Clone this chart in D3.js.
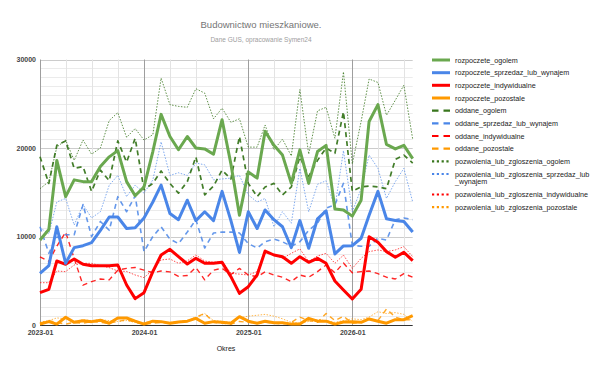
<!DOCTYPE html>
<html>
<head>
<meta charset="utf-8">
<script src="https://cdn.jsdelivr.net/npm/d3@7"></script>
<style>
  body { margin: 0; background: #fff; }
  svg { display: block; font-family: Arial, "Liberation Sans", sans-serif; }
  .grid-minor line { stroke: #ebebeb; }
  .grid-major line { stroke: #cccccc; }
  .vgrid-minor line { stroke: #e3e3e3; }
  .vgrid-major line { stroke: #9e9e9e; }
  .axis text { fill: #444; font-size: 7px; }
  .legend text { fill: #222; font-size: 7.2px; }
</style>
</head>
<body>
<div id="chart"></div>
<script>
// months 2023-01 .. 2026-08
var months = d3.timeMonth.range(new Date(2023, 0, 1), new Date(2026, 8, 1));
var yearTicks = ['2023-01', '2024-01', '2025-01', '2026-01'];

var rozpoczeteOgolem = [9600,10800,18600,14500,16400,16200,16200,17900,19000,19700,16200,14600,15600,19600,23800,21300,19800,21300,20000,19900,19300,23200,18200,12400,17300,16600,21900,20300,19200,16000,19800,16000,19600,20300,13100,13000,12300,14100,23000,24900,20400,19900,20300,18800];
var rozpoczeteSprzedaz = [5840,6700,11100,6970,8740,8960,9300,10700,12200,12200,10900,11000,12100,13900,15800,12600,11900,14100,11800,12800,11800,15100,11800,8200,12800,10900,13000,11900,11100,8740,11800,8670,12000,12900,8030,8930,8960,9800,12400,15100,12000,11800,11700,10500];
var rozpoczeteIndywidualne = [3650,4030,7230,6860,7460,6860,6700,6700,6700,6780,4520,2980,3650,6030,7910,8550,7720,6890,7530,6970,6970,7080,5460,3580,4330,5650,8360,7910,7720,6970,7720,7080,7530,6970,4970,3960,2940,4030,9980,9340,8290,7650,8210,7270];
var rozpoczetePozostale = [100,380,100,870,300,490,380,540,200,790,790,430,100,430,380,200,340,430,750,200,380,300,200,940,430,200,430,250,250,100,100,750,430,430,100,340,380,300,680,430,200,600,600,1050];

var oddaneOgolem = [19000,16000,20300,20800,17700,17900,15100,17500,16300,20800,18400,21100,15300,16000,17400,16000,14900,16200,19000,14700,15700,17500,16500,21300,16000,14500,15600,16000,14700,15600,19000,16800,18600,20000,19400,24100,15100,15600,15700,15600,15400,18700,19200,18300];
var oddaneSprzedaz = [11100,8100,9900,10200,10200,13600,10000,11700,10700,14500,12800,14600,8300,10000,11100,9700,9200,10500,11900,8700,10400,10500,10500,10400,9200,8700,9400,9700,9400,8900,9400,10700,11500,13200,13600,16000,9000,8900,8900,9800,9600,11900,12100,11900];
var oddaneIndywidualne = [7700,7200,8900,10500,7500,4500,4900,5200,5100,6200,6400,6500,6200,5900,6100,6000,5500,5600,6500,5100,6200,6400,5700,6400,5650,5460,6000,5650,5400,4900,5650,5400,6030,6780,5900,7000,5900,6030,6100,5800,5400,5200,5800,5400];
var oddanePozostale = [200,500,300,100,300,200,400,300,200,400,600,300,100,200,300,200,300,400,900,1300,300,200,100,400,300,200,300,200,100,300,900,500,300,1300,500,1000,200,300,700,500,1800,900,600,600];

var pozwoleniaOgolem = [15400,16200,20100,20900,18600,20900,19300,20000,23100,24000,21200,22200,20900,21500,27900,24900,24700,24600,26700,26200,23300,24500,22900,23300,20100,20100,22600,19800,21000,19100,26600,19300,24200,24600,21100,28600,18200,23000,27800,27400,23700,25400,27100,21000];
var pozwoleniaSprzedaz = [11000,10300,13900,14300,11300,13600,12100,12800,15800,16900,14500,15800,14900,16400,20700,16900,17200,16900,18300,18100,16400,16500,16600,16900,14700,13900,14300,11100,12800,11500,17700,12800,15900,16300,13300,19700,12800,15400,19200,17700,14300,16200,17700,13900];
var pozwoleniaIndywidualne = [4780,4780,6100,6030,6780,6970,6970,6700,6480,6100,6050,5650,5350,6220,7350,7460,6970,7250,7910,7230,7080,7200,5840,5750,5650,6030,8100,8000,7530,8100,8600,7160,7800,8100,6970,7900,6400,7530,8290,8480,8290,8480,8850,7720];
var pozwoleniaPozostale = [300,500,800,700,400,600,500,600,500,400,500,300,300,400,300,300,400,500,700,1300,500,400,300,800,1000,1100,1200,1000,700,300,200,400,600,500,300,500,700,600,900,1500,1300,1400,1200,400];

var series = [
  {name: 'rozpoczete_ogolem', values: rozpoczeteOgolem, color: '#6aa84f', width: 3, dash: null, op: 1},
  {name: 'rozpoczete_sprzedaz_lub_wynajem', values: rozpoczeteSprzedaz, color: '#4a86e8', width: 3, dash: null, op: 1},
  {name: 'rozpoczete_indywidualne', values: rozpoczeteIndywidualne, color: '#ff0000', width: 3, dash: null, op: 1},
  {name: 'rozpoczete_pozostale', values: rozpoczetePozostale, color: '#ff9900', width: 3, dash: null, op: 1},
  {name: 'oddane_ogolem', values: oddaneOgolem, color: '#38761d', width: 1.7, dash: '5,4', op: 0.95},
  {name: 'oddane_sprzedaz_lub_wynajem', values: oddaneSprzedaz, color: '#4a86e8', width: 1.6, dash: '5,4', op: 0.85},
  {name: 'oddane_indywidualne', values: oddaneIndywidualne, color: '#ff0000', width: 1.4, dash: '5,4', op: 0.85},
  {name: 'oddane_pozostale', values: oddanePozostale, color: '#ff9900', width: 1.4, dash: '5,4', op: 0.85},
  {name: 'pozwolenia_lub_zgloszenia_ogolem', values: pozwoleniaOgolem, color: '#38761d', width: 1, dash: '1.5,1.5', op: 0.8},
  {name: 'pozwolenia_lub_zgloszenia_sprzedaz_lub_wynajem', values: pozwoleniaSprzedaz, color: '#4a86e8', width: 1, dash: '1.5,1.5', op: 0.7},
  {name: 'pozwolenia_lub_zgloszenia_indywidualne', values: pozwoleniaIndywidualne, color: '#ff0000', width: 1, dash: '1.5,1.5', op: 0.7},
  {name: 'pozwolenia_lub_zgloszenia_pozostale', values: pozwoleniaPozostale, color: '#ff9900', width: 1, dash: '1.5,1.5', op: 0.7}
];

(function(){
var width = 600, height = 371;
var plotLeft = 40, plotRight = 412.7, plotTop = 59.5, plotBottom = 325;

var svg = d3.select('#chart').append('svg')
  .attr('width', width)
  .attr('height', height);

var x = d3.scaleTime()
  .domain([months[0], months[months.length - 1]])
  .range([plotLeft, plotRight]);

var y = d3.scaleLinear()
  .domain([0, 30000])
  .range([plotBottom, plotTop]);

// horizontal grid
svg.append('g').attr('class', 'grid-minor')
  .selectAll('line').data(d3.range(1000, 30000, 1000).filter(function(d){ return d % 10000; }))
  .enter().append('line')
  .attr('x1', plotLeft).attr('x2', plotRight)
  .attr('y1', function(d){ return Math.round(y(d)) + 0.5; }).attr('y2', function(d){ return Math.round(y(d)) + 0.5; });

svg.append('g').attr('class', 'grid-major')
  .selectAll('line').data([10000, 20000, 30000])
  .enter().append('line')
  .attr('x1', plotLeft).attr('x2', plotRight)
  .attr('y1', function(d){ return Math.round(y(d)) + 0.5; }).attr('y2', function(d){ return Math.round(y(d)) + 0.5; });

// vertical grid
var quarterMonths = months.filter(function(d){ return d.getMonth() % 3 === 0 && d.getMonth() !== 0; });
var yearMonths = months.filter(function(d){ return d.getMonth() === 0; });

svg.append('g').attr('class', 'vgrid-minor')
  .selectAll('line').data(quarterMonths)
  .enter().append('line')
  .attr('x1', function(d){ return Math.round(x(d)) + 0.5; }).attr('x2', function(d){ return Math.round(x(d)) + 0.5; })
  .attr('y1', plotTop).attr('y2', plotBottom);

svg.append('g').attr('class', 'vgrid-major')
  .selectAll('line').data(yearMonths)
  .enter().append('line')
  .attr('x1', function(d){ return Math.round(x(d)) + 0.5; }).attr('x2', function(d){ return Math.round(x(d)) + 0.5; })
  .attr('y1', plotTop).attr('y2', plotBottom);

// baseline
svg.append('line')
  .attr('x1', plotLeft).attr('x2', plotRight)
  .attr('y1', plotBottom + 0.5).attr('y2', plotBottom + 0.5)
  .attr('stroke', '#333');

// lines (draw dotted first, solid on top)
var line = d3.line()
  .x(function(d, i){ return x(months[i]); })
  .y(function(d){ return y(d); });

svg.append('g')
  .selectAll('path').data(series.slice().reverse())
  .enter().append('path')
  .attr('d', function(d){ return line(d.values); })
  .attr('fill', 'none')
  .attr('stroke', function(d){ return d.color; })
  .attr('stroke-width', function(d){ return d.width; })
  .attr('stroke-dasharray', function(d){ return d.dash; })
  .attr('stroke-opacity', function(d){ return d.op; })
  .attr('stroke-linejoin', 'round');

// y axis labels
var yAxis = d3.axisLeft(y).tickValues([0, 10000, 20000, 30000]).tickSize(0).tickPadding(4).tickFormat(d3.format('d'));
var gy = svg.append('g').attr('class', 'axis').attr('transform', 'translate(' + plotLeft + ',0)').call(yAxis);
gy.select('.domain').remove();
gy.selectAll('text').attr('font-weight', 'bold').attr('fill', '#555');

// x axis labels
var parse = d3.timeParse('%Y-%m');
var xAxis = d3.axisBottom(x).tickValues(yearTicks.map(parse)).tickSize(0).tickPadding(5).tickFormat(d3.timeFormat('%Y-%m'));
var gx = svg.append('g').attr('class', 'axis').attr('transform', 'translate(0,' + plotBottom + ')').call(xAxis);
gx.select('.domain').remove();
gx.selectAll('text').attr('font-weight', 'bold').attr('fill', '#444');

svg.append('text')
  .attr('x', 226).attr('y', 351)
  .attr('text-anchor', 'middle')
  .attr('font-size', 7)
  .attr('fill', '#222')
  .text('Okres');

// title
svg.append('text')
  .attr('x', 261).attr('y', 28)
  .attr('text-anchor', 'middle')
  .attr('font-size', 9.5)
  .attr('fill', '#757575')
  .text('Budownictwo mieszkaniowe.');

svg.append('text')
  .attr('x', 261).attr('y', 42)
  .attr('text-anchor', 'middle')
  .attr('font-size', 6.5)
  .attr('fill', '#9e9e9e')
  .text('Dane GUS, opracowanie Symen24');

// legend
var legendRows = [60, 72.7, 85.3, 98, 110.7, 123.3, 136, 148.7, 161.3, 174, 194.5, 207.2];
var legend = svg.append('g').attr('class', 'legend');
var items = legend.selectAll('g').data(series).enter().append('g')
  .attr('transform', function(d, i){ return 'translate(0,' + legendRows[i] + ')'; });

items.append('line')
  .attr('x1', 432).attr('x2', 450)
  .attr('y1', 0).attr('y2', 0)
  .attr('stroke', function(d){ return d.color; })
  .attr('stroke-width', function(d){ return d.dash === null ? 3 : 2.2; })
  .attr('stroke-dasharray', function(d){
    if (d.dash === null) return null;
    return d.dash === '5,4' ? '6.5,5' : '2.2,2.6';
  });

items.each(function(d){
  var g = d3.select(this);
  var lines = d.name === 'pozwolenia_lub_zgloszenia_sprzedaz_lub_wynajem'
    ? ['pozwolenia_lub_zgloszenia_sprzedaz_lub', '_wynajem'] : [d.name];
  lines.forEach(function(t, k){
    g.append('text')
      .attr('x', 455).attr('y', 2.5 + k * 7.5)
      .text(t);
  });
});
})();
</script>
</body>
</html>
